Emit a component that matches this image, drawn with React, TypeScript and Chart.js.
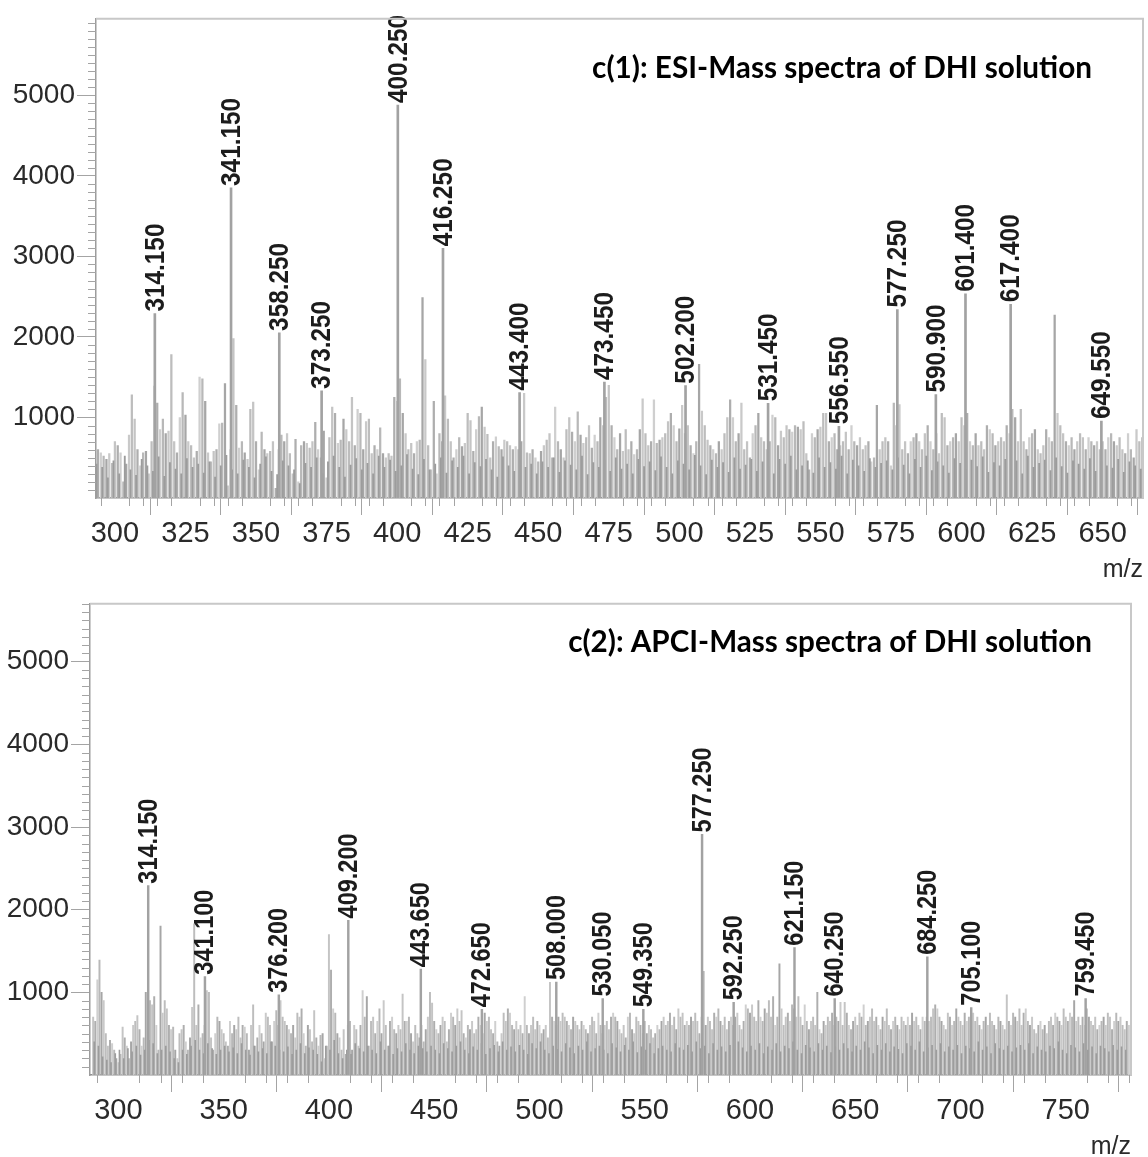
import React, { useEffect, useRef } from "react";
import { Chart, registerables } from "chart.js";
Chart.register(...registerables);

// ---------------- Panel c(1): ESI ----------------
const esiTitle = "c(1): ESI-Mass spectra of DHI solution";
const esiNoiseStart = 293; // m/z of first noise value, one value per m/z unit
const esiNoise = [
  720, 600, 560, 520, 480, 550, 430,
  700, 650, 560, 200, 420, 780, 1280, 980, 600, 400,
  560, 580, 300, 700, 1390, 1180, 850, 980, 800, 830,
  1780, 700, 560, 1000, 1310, 1030, 700, 650, 500, 580,
  1500, 1480, 1200, 560, 450, 580, 600, 920, 930, 1420,
  150, 600, 1980, 1150, 620, 700, 560, 480, 1100, 1190,
  700, 350, 820, 600, 550, 580, 700, 120, 600, 780,
  700, 800, 550, 300, 730, 200, 650, 700, 680, 620,
  700, 940, 600, 500, 830, 250, 750, 1130, 1050, 680,
  720, 980, 850, 700, 1250, 650, 1100, 1050, 600, 950,
  980, 550, 650, 600, 870, 550, 500, 550, 520, 1250,
  1200, 1480, 1050, 800, 600, 680, 550, 700, 720, 2490,
  1720, 650, 350, 1200, 300, 800, 700, 1270, 980, 700,
  500, 600, 750, 640, 680, 1050, 960, 580, 850, 1010,
  1130, 880, 790, 500, 700, 760, 640, 600, 720, 700,
  650, 600, 640, 600, 700, 1300, 560, 550, 600, 500,
  450, 580, 650, 720, 800, 500, 1130, 700, 600, 500,
  850, 1000, 820, 700, 1070, 780, 680, 750, 900, 620,
  780, 700, 1000, 900, 1250, 1400, 900, 750, 600, 800,
  580, 850, 600, 700, 540, 600, 850, 1230, 800, 650,
  700, 1220, 680, 720, 750, 800, 950, 1050, 900, 700,
  860, 1150, 800, 900, 650, 550, 700, 1660, 1080, 900,
  720, 650, 600, 550, 700, 600, 800, 1000, 1220, 1000,
  700, 800, 1180, 600, 700, 500, 800, 900, 1050, 750,
  700, 600, 700, 1030, 1000, 650, 830, 750, 900, 850,
  820, 900, 880, 850, 950, 550, 350, 800, 750, 850,
  880, 1050, 1050, 700, 750, 800, 600, 650, 700, 820,
  600, 900, 700, 650, 750, 600, 650, 700, 450, 500,
  1150, 600, 700, 750, 700, 400, 1180, 900, 1160, 600,
  700, 550, 700, 750, 800, 700, 600, 800, 900, 700,
  600, 800, 550, 1050, 1000, 650, 700, 750, 800, 700,
  1000, 900, 1050, 700, 650, 800, 650, 700, 600, 900,
  850, 800, 650, 700, 750, 700, 900, 800, 1100, 1000,
  700, 1100, 700, 600, 750, 800, 850, 600, 550, 650,
  850, 750, 700, 2270, 1050, 900, 800, 700, 650, 750,
  600, 700, 800, 750, 600, 750, 700, 650, 700, 600,
  700, 600, 750, 800, 700, 650, 750, 600, 550, 800,
  600, 500, 850, 700, 750,
];
const esiLowStart = 293.5; // short darker lines, one every 2 m/z units
const esiLow = [
  420, 380, 250, 460, 300, 520, 350, 280, 480, 400, 330, 510, 270, 440, 360, 300, 490, 380, 420, 310,
  450, 260, 400, 530, 350, 300, 470, 380, 250, 420, 510, 330, 290, 460, 400, 350, 180, 430, 380, 500,
  300, 450, 520, 380, 260, 410, 490, 350, 430, 300, 520, 380, 470, 330, 400, 540, 360, 290, 480, 350,
  420, 500, 310, 460, 380, 520, 300, 440, 390, 480, 350, 260, 510, 400, 330, 470, 380, 420, 300, 450,
  380, 500, 320, 460, 410, 350, 520, 290, 440, 380, 470, 330, 500, 360, 420, 300, 480, 390, 450, 340,
  510, 380, 300, 460, 420, 350, 530, 400, 290, 470, 380, 440, 320, 500, 360, 410, 480, 330, 450, 390,
  300, 480, 420, 520, 350, 400, 460, 310, 500, 380, 440, 360, 520, 300, 470, 400, 330, 490, 380, 430,
  460, 350, 500, 410, 300, 480, 380, 520, 340, 450, 400, 310, 490, 430, 360, 470, 390, 510, 320, 440,
  400, 480, 350, 460, 300, 520, 380, 430, 470, 340, 500, 390, 310, 460, 420, 360, 490, 330, 450, 400,
  370, 480, 320, 450, 400, 360,
];
const esiPeakMz = [314.15, 341.15, 358.25, 373.25, 400.25, 416.25, 443.4, 473.45, 502.2, 531.45, 556.55, 577.25, 590.9, 601.4, 617.4, 649.55];
const esiPeakInt = [2290, 3850, 2050, 1330, 4880, 3100, 1310, 1440, 1395, 1175, 890, 2340, 1285, 2535, 2405, 955];
const esiPeakLabels = ["314.150", "341.150", "358.250", "373.250", "400.250", "416.250", "443.400", "473.450", "502.200", "531.450", "556.550", "577.250", "590.900", "601.400", "617.400", "649.550"];
const esiXTicks = [300, 325, 350, 375, 400, 425, 450, 475, 500, 525, 550, 575, 600, 625, 650];
const esiYTicks = [1000, 2000, 3000, 4000, 5000];

// ---------------- Panel c(2): APCI ----------------
const apciTitle = "c(2): APCI-Mass spectra of DHI solution";
const apciNoiseStart = 288;
const apciNoise = [
  700, 650, 1150, 1390, 1000, 900, 500, 350, 420, 380, 300, 200,
  150, 250, 580, 450, 350, 200, 400, 600, 650, 720,
  550, 350, 450, 1000, 700, 900, 850, 950, 600, 300,
  1800, 750, 900, 800, 600, 550, 580, 300, 200, 500,
  550, 600, 400, 300, 450, 820, 1830, 600, 850, 450,
  500, 600, 1020, 1000, 450, 300, 500, 700, 650, 550,
  500, 400, 350, 650, 500, 600, 550, 700, 450, 600,
  580, 500, 300, 600, 850, 350, 450, 600, 500, 400,
  750, 700, 600, 400, 650, 780, 600, 900, 700, 650,
  600, 550, 500, 600, 450, 750, 700, 800, 500, 350,
  600, 550, 400, 780, 450, 350, 480, 500, 200, 350,
  1700, 1270, 800, 750, 500, 450, 300, 550, 250, 600,
  650, 300, 600, 550, 350, 600, 1020, 700, 950, 350,
  650, 700, 500, 650, 800, 500, 900, 600, 350, 650,
  700, 550, 500, 600, 550, 980, 650, 650, 700, 500,
  400, 600, 500, 450, 600, 400, 550, 700, 1000, 870,
  650, 550, 500, 600, 700, 650, 400, 550, 750, 700,
  600, 800, 650, 780, 500, 450, 600, 550, 650, 500,
  550, 700, 600, 500, 750, 650, 700, 550, 500, 650,
  400, 350, 500, 750, 650, 800, 750, 600, 550, 650,
  550, 600, 500, 950, 600, 500, 600, 700, 550, 650,
  600, 500, 550, 600, 450, 1120, 700, 650, 600, 700,
  650, 750, 700, 650, 600, 550, 700, 650, 600, 550,
  650, 600, 550, 500, 600, 700, 650, 500, 750, 600,
  500, 600, 650, 550, 700, 750, 700, 650, 550, 500,
  600, 450, 700, 750, 550, 500, 700, 650, 600, 500,
  650, 500, 600, 550, 450, 500, 600, 550, 650, 700,
  600, 650, 750, 600, 700, 550, 800, 700, 750, 600,
  650, 600, 700, 650, 750, 650, 500, 700, 1255, 600,
  700, 650, 550, 750, 700, 800, 650, 600, 700, 550,
  650, 700, 600, 700, 750, 600, 550, 650, 850, 800,
  750, 850, 700, 650, 900, 700, 650, 800, 750, 900,
  700, 950, 600, 700, 1344, 800, 600, 700, 750, 650,
  850, 800, 700, 950, 700, 600, 850, 650, 550, 650,
  700, 600, 1000, 550, 500, 650, 600, 700, 650, 750,
  600, 700, 650, 880, 600, 880, 750, 600, 550, 650,
  700, 600, 750, 700, 850, 600, 650, 700, 800, 650,
  700, 600, 550, 700, 650, 800, 600, 550, 650, 700,
  600, 550, 700, 650, 600, 700, 600, 750, 650, 700,
  600, 550, 700, 650, 700, 650, 700, 800, 850, 800,
  700, 650, 600, 550, 750, 700, 600, 650, 800, 700,
  650, 600, 750, 650, 700, 600, 750, 650, 700, 600,
  550, 650, 700, 600, 750, 650, 600, 550, 700, 650,
  600, 550, 970, 650, 600, 750, 700, 650, 800, 600,
  750, 800, 650, 600, 700, 550, 500, 600, 650, 550,
  600, 500, 650, 700, 600, 750, 700, 650, 600, 800,
  700, 650, 750, 700, 900, 650, 700, 600, 700, 600,
  800, 700, 650, 600, 700, 550, 600, 650, 700, 600,
  750, 700, 550, 650, 750, 650, 700, 600, 550, 650,
  600,
];
const apciLowStart = 288.5;
const apciLow = [
  400, 350, 220, 180, 150, 260, 300, 200, 320, 280, 350, 240, 300, 420, 380, 260, 300, 350, 280, 200,
  150, 300, 250, 350, 420, 300, 260, 380, 320, 250, 300, 350, 280, 330, 260, 380, 300, 240, 350, 280,
  320, 260, 400, 350, 300, 280, 340, 250, 300, 380, 260, 330, 300, 250, 160, 350, 300, 420, 260, 200,
  300, 250, 380, 320, 280, 350, 300, 260, 400, 300, 350, 250, 320, 280, 380, 300, 260, 350, 320, 280,
  350, 300, 260, 380, 320, 280, 350, 400, 300, 260, 340, 300, 380, 250, 320, 360, 280, 400, 300, 340,
  280, 360, 300, 250, 380, 320, 400, 300, 260, 350, 310, 280, 380, 330, 260, 350, 300, 400, 280, 320,
  350, 300, 260, 380, 330, 280, 360, 300, 400, 270, 340, 300, 380, 260, 320, 350, 300, 280, 380, 330,
  300, 360, 280, 400, 320, 350, 260, 380, 300, 340, 280, 360, 300, 400, 330, 280, 350, 300, 380, 260,
  340, 300, 380, 280, 350, 320, 400, 300, 260, 360, 330, 280, 380, 300, 350, 270, 340, 300, 380, 320,
  280, 350, 300, 400, 330, 260, 360, 300, 380, 280, 340, 310, 260, 380, 350, 300, 400, 280, 330, 360,
  300, 380, 280, 340, 300, 360, 260, 350, 320, 280, 400, 300, 340, 260, 380, 320, 300, 350, 280, 330,
  360, 300, 380, 260, 340, 300, 280, 350, 320, 400, 300, 260, 360, 330, 280, 380, 300, 340, 260, 350,
  320, 280, 360, 300, 340, 300,
];
const apciPeakMz = [314.15, 341.1, 376.2, 409.2, 443.65, 472.65, 508.0, 530.05, 549.35, 577.25, 592.25, 621.15, 640.25, 684.25, 705.1, 759.45];
const apciPeakInt = [2290, 1190, 970, 1870, 1280, 795, 1125, 925, 795, 2910, 880, 1540, 925, 1430, 815, 925];
const apciPeakLabels = ["314.150", "341.100", "376.200", "409.200", "443.650", "472.650", "508.000", "530.050", "549.350", "577.250", "592.250", "621.150", "640.250", "684.250", "705.100", "759.450"];
const apciXTicks = [300, 350, 400, 450, 500, 550, 600, 650, 700, 750];
const apciYTicks = [1000, 2000, 3000, 4000, 5000];

// ---------------- helpers ----------------
const shades = ["#c4c4c4", "#aeaeae", "#cfcfcf", "#b8b8b8", "#a6a6a6", "#c9c9c9", "#bdbdbd"];
const TICK_FONT = '"Liberation Sans", Arial, sans-serif';
const LABEL_FONT = '"Liberation Sans", Arial, sans-serif';

function seriesPoints(start: number, step: number, values: number[]) {
  return values.map((v, i) => ({ x: start + i * step, y: v }));
}

type Panel = {
  height: number;
  padTop: number;
  padRight: number;
  yWidth: number;
  xHeight: number;
  xMin: number;
  xMax: number;
  yMax: number;
  xTicks: number[];
  yTicks: number[];
  xMinorStep: number;
  noise: { x: number; y: number }[];
  low: { x: number; y: number }[];
  peaks: { x: number; y: number }[];
  peakLabels: string[];
  noiseW: number;
  lowW: number;
  peakW: number;
  labelSize: number;
  labelLength: number;
  title: string;
  titleWidth: number;
  titleRightInset: number;
  titleY: number;
  mzLineHeight: number;
};

function makeChart(canvas: HTMLCanvasElement, p: Panel) {
  const decor = {
    id: "decor",
    afterDatasetsDraw(chart: any) {
      const { ctx } = chart;
      const meta = chart.getDatasetMeta(0);
      ctx.save();
      ctx.fillStyle = "#1c1c1c";
      ctx.font = `bold ${p.labelSize}px ${LABEL_FONT}`;
      ctx.textAlign = "left";
      ctx.textBaseline = "middle";
      meta.data.forEach((el: any, i: number) => {
        const txt = p.peakLabels[i];
        const w = ctx.measureText(txt).width;
        const sx = p.labelLength / w;
        ctx.save();
        ctx.translate(el.x, el.y - 2);
        ctx.rotate(-Math.PI / 2);
        ctx.scale(sx, 1);
        ctx.fillText(txt, 0, 1);
        ctx.restore();
      });
      ctx.restore();
    },
    afterDraw(chart: any) {
      const { ctx, chartArea: a, scales } = chart;
      const xs = scales.x;
      const ys = scales.y;
      ctx.save();
      ctx.strokeStyle = "#c8c8c8";
      ctx.lineWidth = 2;
      ctx.beginPath();
      ctx.moveTo(a.left, a.top);
      ctx.lineTo(a.right, a.top);
      ctx.lineTo(a.right, a.bottom);
      ctx.stroke();
      ctx.strokeStyle = "#a4a4a4";
      ctx.lineWidth = 1;
      ctx.beginPath();
      const first = Math.ceil(xs.min / p.xMinorStep) * p.xMinorStep;
      for (let v = first; v <= xs.max; v += p.xMinorStep) {
        if (p.xTicks.indexOf(v) >= 0) continue;
        const px = Math.round(xs.getPixelForValue(v)) + 0.5;
        ctx.moveTo(px, a.bottom);
        ctx.lineTo(px, a.bottom + 8);
      }
      for (let v = 100; v <= ys.max; v += 100) {
        if (v % 1000 === 0) continue;
        const py = Math.round(ys.getPixelForValue(v)) + 0.5;
        ctx.moveTo(a.left - 8, py);
        ctx.lineTo(a.left, py);
      }
      ctx.stroke();
      // panel title
      ctx.font = `bold 100px Lato, "Open Sans", sans-serif`;
      const w100 = ctx.measureText(p.title).width;
      const size = (100 * p.titleWidth) / w100;
      ctx.font = `bold ${size.toFixed(2)}px Lato, "Open Sans", sans-serif`;
      ctx.fillStyle = "#000";
      ctx.textAlign = "right";
      ctx.textBaseline = "middle";
      ctx.fillText(p.title, a.right - p.titleRightInset, p.titleY);
      ctx.restore();
    },
  };

  return new Chart(canvas, {
    type: "bar",
    data: {
      datasets: [
        { data: p.peaks, backgroundColor: "#a2a2a2", barThickness: p.peakW, grouped: false } as any,
        { data: p.low, backgroundColor: "#9c9c9c", barThickness: p.lowW, grouped: false } as any,
        {
          data: p.noise,
          backgroundColor: (c: any) => shades[c.dataIndex % shades.length],
          barThickness: p.noiseW,
          grouped: false,
        } as any,
      ],
    },
    options: {
      animation: false,
      responsive: false,
      maintainAspectRatio: false,
      devicePixelRatio: 1,
      layout: { padding: { top: p.padTop, right: p.padRight, left: 0, bottom: 0 } },
      plugins: { legend: { display: false }, tooltip: { enabled: false }, title: { display: false } },
      scales: {
        x: {
          type: "linear",
          min: p.xMin,
          max: p.xMax,
          offset: false,
          afterBuildTicks: (s: any) => {
            s.ticks = p.xTicks.map((v) => ({ value: v }));
          },
          afterFit: (s: any) => {
            s.height = p.xHeight;
          },
          ticks: {
            autoSkip: false,
            maxRotation: 0,
            padding: 2,
            color: "#2a2a2a",
            font: { family: TICK_FONT, size: 29 },
            callback: (v: any) => String(v),
          },
          grid: { drawOnChartArea: false, drawTicks: true, tickLength: 17, tickColor: "#a4a4a4", tickWidth: 1 },
          border: { display: true, color: "#8e8e8e", width: 1.5 },
          title: {
            display: true,
            text: "m/z",
            align: "end",
            color: "#2a2a2a",
            padding: 0,
            font: { family: TICK_FONT, size: 25, lineHeight: p.mzLineHeight },
          },
        },
        y: {
          type: "linear",
          min: 0,
          max: p.yMax,
          afterBuildTicks: (s: any) => {
            s.ticks = p.yTicks.map((v) => ({ value: v }));
          },
          afterFit: (s: any) => {
            s.width = p.yWidth;
          },
          ticks: {
            padding: 2,
            color: "#2a2a2a",
            font: { family: TICK_FONT, size: 28 },
            callback: (v: any) => String(v),
          },
          grid: { drawOnChartArea: false, drawTicks: true, tickLength: 19, tickColor: "#a4a4a4", tickWidth: 1 },
          border: { display: true, color: "#9c9c9c", width: 1.5 },
        },
      },
    } as any,
    plugins: [decor as any],
  });
}

const topPanel: Panel = {
  height: 585,
  padTop: 16,
  padRight: 5,
  yWidth: 96,
  xHeight: 87,
  xMin: 293.3,
  xMax: 664.3,
  yMax: 5950,
  xTicks: esiXTicks,
  yTicks: esiYTicks,
  xMinorStep: 5,
  noise: seriesPoints(esiNoiseStart, 1, esiNoise),
  low: seriesPoints(esiLowStart, 2, esiLow),
  peaks: esiPeakMz.map((m, i) => ({ x: m, y: esiPeakInt[i] })),
  peakLabels: esiPeakLabels,
  noiseW: 1.6,
  lowW: 1.2,
  peakW: 2,
  labelSize: 28,
  labelLength: 88,
  title: esiTitle,
  titleWidth: 500,
  titleRightInset: 51,
  titleY: 68,
  mzLineHeight: 1.2,
};

const bottomPanel: Panel = {
  height: 572,
  padTop: 12,
  padRight: 17,
  yWidth: 90,
  xHeight: 82,
  xMin: 286.5,
  xMax: 781,
  yMax: 5700,
  xTicks: apciXTicks,
  yTicks: apciYTicks,
  xMinorStep: 10,
  noise: seriesPoints(apciNoiseStart, 1, apciNoise),
  low: seriesPoints(apciLowStart, 2, apciLow),
  peaks: apciPeakMz.map((m, i) => ({ x: m, y: apciPeakInt[i] })),
  peakLabels: apciPeakLabels,
  noiseW: 1.3,
  lowW: 1,
  peakW: 1.8,
  labelSize: 27,
  labelLength: 85,
  title: apciTitle,
  titleWidth: 524,
  titleRightInset: 39,
  titleY: 57,
  mzLineHeight: 0.8,
};

function PanelCanvas({ panel, top }: { panel: Panel; top: number }) {
  const ref = useRef<HTMLCanvasElement | null>(null);
  useEffect(() => {
    if (!ref.current) return;
    const chart = makeChart(ref.current, panel);
    return () => chart.destroy();
  }, [panel]);
  return (
    <canvas
      ref={ref}
      width={1148}
      height={panel.height}
      style={{ position: "absolute", left: 0, top, width: 1148, height: panel.height, display: "block" }}
    />
  );
}

export default function App() {
  return (
    <div style={{ position: "fixed", left: 0, top: 0, width: 1148, height: 1157, overflow: "hidden", background: "#fff" }}>
      <PanelCanvas panel={topPanel} top={0} />
      <PanelCanvas panel={bottomPanel} top={585} />
    </div>
  );
}
